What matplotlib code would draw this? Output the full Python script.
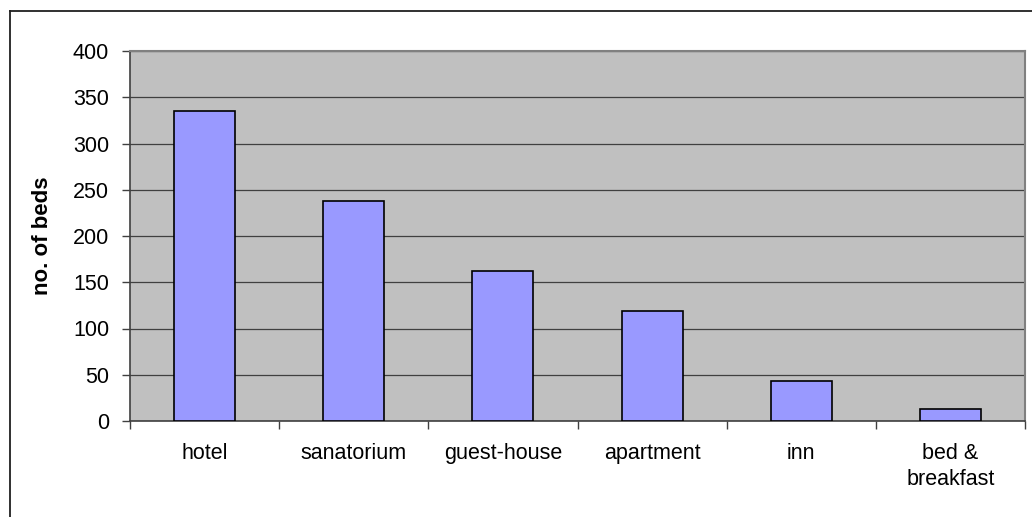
import matplotlib
matplotlib.use("Agg")
import matplotlib.pyplot as plt
from matplotlib.lines import Line2D
import numpy as np

categories = ["hotel", "sanatorium", "guest-house", "apartment", "inn", "bed &\nbreakfast"]
beds = [335, 238, 162, 119, 43, 13]
yticks = [0, 50, 100, 150, 200, 250, 300, 350, 400]

plt.rcParams['font.family'] = ['Liberation Sans', 'DejaVu Sans']

W, H = 1032, 517
fig = plt.figure(figsize=(W/100, H/100), dpi=100)
ax = fig.add_axes([130/W, 1-421/H, (1025-130)/W, (421-51)/H])
ax.set_facecolor('#C0C0C0')

x = np.arange(len(categories))
ax.bar(x, beds, width=0.41, color='#9999FF', edgecolor='black', linewidth=1.2, zorder=3)

ax.set_xlim(-0.5, len(categories)-0.5)
ax.set_ylim(0, 400)
ax.set_yticks(yticks)
ax.set_yticklabels([str(v) for v in yticks])
ax.yaxis.grid(True, color='#404040', linewidth=0.9, zorder=1)
ax.set_axisbelow(True)

# major ticks at category boundaries, labels at centers
ax.set_xticks(np.arange(-0.5, len(categories), 1.0))
ax.set_xticklabels([])
ax.set_xticks(x, minor=True)
ax.set_xticklabels(categories, minor=True, fontsize=15.5, linespacing=1.3, va='top')
ax.tick_params(axis='x', which='minor', length=0, pad=16)
ax.tick_params(axis='x', which='major', length=6, width=1, color='#404040', direction='out')
ax.tick_params(axis='y', length=6, width=1, color='#404040', direction='out', pad=9, labelsize=15.5)

for s in ['left', 'bottom']:
    ax.spines[s].set_color('#404040')
    ax.spines[s].set_linewidth(1.2)
for s in ['top', 'right']:
    ax.spines[s].set_color('#808080')
    ax.spines[s].set_linewidth(1.5)

ax.set_ylabel('no. of beds', fontsize=16, fontweight='bold')
ax.yaxis.set_label_coords((53-130)/(1025-130), 0.5)

# chart outer border (cropped on right and bottom)
fig.add_artist(Line2D([10/W, 10/W], [0, 1-11/H], transform=fig.transFigure, color='#202020', linewidth=1.3))
fig.add_artist(Line2D([10/W, 1], [1-11/H, 1-11/H], transform=fig.transFigure, color='#202020', linewidth=1.3))

fig.savefig('out.png', dpi=100)
